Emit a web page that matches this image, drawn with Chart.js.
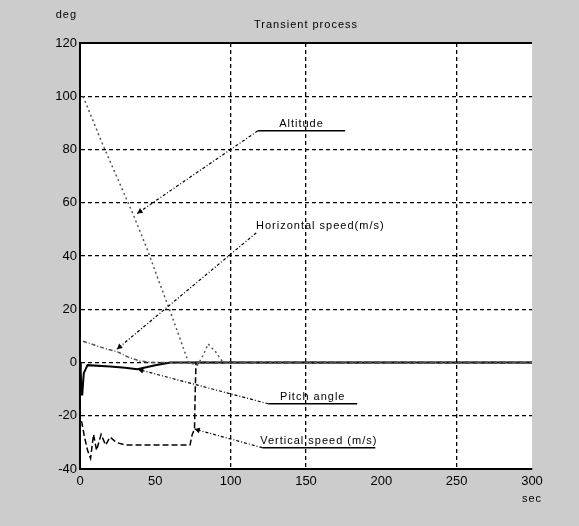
<!DOCTYPE html>
<html>
<head>
<meta charset="utf-8">
<script src="https://cdn.jsdelivr.net/npm/chart.js@4.4.0/dist/chart.umd.min.js"></script>
<style>
  html, body { margin: 0; padding: 0; background: #cccccc; }
  #wrap { width: 579px; height: 526px; }
</style>
</head>
<body>
<div id="wrap"><canvas id="chart" width="579" height="526"></canvas></div>
<script>
// values (time in sec, angle in deg)
const altT = [2, 15, 25, 35, 45, 52, 60, 67, 72, 78, 82, 85, 90, 95, 100, 300];
const altV = [100, 82, 69, 56, 42, 31, 19, 8, 0, -1, 3, 7, 4, 0, 0, 0];

const hsT = [2, 10, 18, 25, 32, 40, 50, 300];
const hsV = [8, 6.5, 5, 4, 2, 0.5, 0, 0];

const pitchT = [0, 0.5, 1, 1.5, 2.5, 5, 20, 30, 38, 50, 60, 300];
const pitchV = [0, -4, -12, -12, -4, -1, -1.5, -2, -2.5, -1, 0, 0];

const vsT = [1, 3, 5, 7, 9, 11, 14, 17, 20, 24, 30, 50, 73, 74.5, 76, 76.5, 77, 300];
const vsV = [-22, -28, -33, -36, -27, -33, -27, -31, -28, -30, -31, -31, -31, -27, -25, -10, 0, 0];

const xTicks = [0, 50, 100, 150, 200, 250, 300];
const yTicks = [-40, -20, 0, 20, 40, 60, 80, 100, 120];
const xGridShown = [100, 150, 250];

// annotation labels: underline span, label level, and arrow target (data units)
const noteText = ['Altitude', 'Horizontal speed(m/s)', 'Pitch angle', 'Vertical speed (m/s)'];
const noteX0 = [118, 117, 125, 121];
const noteX1 = [176, 202, 184, 196];
const noteY = [87, 48.7, -15.5, -32];
const noteLine = [true, false, true, true];
const noteTx = [38, 24.5, 38.5, 76];
const noteTy = [56, 5, -2.6, -25];

const FONT = '"Liberation Sans", Arial, sans-serif';

function pts(t, v) {
    return t.map((x, i) => ({ x: x, y: v[i] }));
}

const frame = {
    id: 'frame',
    beforeDraw(chart) {
        const { ctx, chartArea: a } = chart;
        ctx.save();
        ctx.fillStyle = '#ffffff';
        ctx.fillRect(a.left, a.top, a.right - a.left, a.bottom - a.top);
        ctx.restore();
    },
    afterDraw(chart) {
        const { ctx, chartArea: a, scales } = chart;
        ctx.save();
        // top edge of the box
        ctx.strokeStyle = '#000';
        ctx.lineWidth = 2;
        ctx.beginPath();
        ctx.moveTo(a.left, a.top);
        ctx.lineTo(a.right, a.top);
        ctx.stroke();

        // texts round the box
        ctx.fillStyle = '#000';
        ctx.font = '11px ' + FONT;
        ctx.letterSpacing = '1px';
        ctx.textAlign = 'center';
        ctx.textBaseline = 'middle';
        ctx.fillText('Transient process', (a.left + a.right) / 2, 25);
        ctx.textAlign = 'right';
        ctx.fillText('deg', 77, 15);
        ctx.textAlign = 'center';
        ctx.fillText('sec', scales.x.getPixelForValue(300), 499);

        // labels with arrows
        const x = scales.x, y = scales.y;
        noteText.forEach((txt, i) => {
            const x0 = x.getPixelForValue(noteX0[i]);
            const x1 = x.getPixelForValue(noteX1[i]);
            const yy = y.getPixelForValue(noteY[i]);
            const tx = x.getPixelForValue(noteTx[i]);
            const ty = y.getPixelForValue(noteTy[i]);

            ctx.textAlign = 'center';
            ctx.textBaseline = 'alphabetic';
            ctx.fillText(txt, (x0 + x1) / 2, yy - 4);
            if (noteLine[i]) {
                ctx.setLineDash([]);
                ctx.lineWidth = 1.5;
                ctx.beginPath();
                ctx.moveTo(x0, yy);
                ctx.lineTo(x1, yy);
                ctx.stroke();
            }
            ctx.lineWidth = 1.2;
            ctx.setLineDash([3, 2, 1, 2]);
            ctx.beginPath();
            ctx.moveTo(x0, yy);
            ctx.lineTo(tx, ty);
            ctx.stroke();
            ctx.setLineDash([]);

            // arrow head
            const ang = Math.atan2(ty - yy, tx - x0);
            ctx.beginPath();
            ctx.moveTo(tx, ty);
            ctx.lineTo(tx - 6 * Math.cos(ang - 0.5), ty - 6 * Math.sin(ang - 0.5));
            ctx.lineTo(tx - 6 * Math.cos(ang + 0.5), ty - 6 * Math.sin(ang + 0.5));
            ctx.closePath();
            ctx.fill();
        });
        ctx.restore();
    }
};

const ctx = document.getElementById('chart');
new Chart(ctx, {
    type: 'line',
    data: {
        datasets: [
            { label: 'Altitude', data: pts(altT, altV), borderColor: '#555', borderWidth: 1.5, borderDash: [2, 3] },
            { label: 'Horizontal speed', data: pts(hsT, hsV), borderColor: '#555', borderWidth: 1.5, borderDash: [4, 2, 1, 2] },
            { label: 'Pitch angle', data: pts(pitchT, pitchV), borderColor: '#000', borderWidth: 2 },
            { label: 'Vertical speed', data: pts(vsT, vsV), borderColor: '#000', borderWidth: 1.5, borderDash: [6, 3] }
        ]
    },
    options: {
        responsive: false,
        animation: false,
        elements: { point: { radius: 0 }, line: { tension: 0, fill: false } },
        layout: { padding: { left: 0, right: 47, top: 43, bottom: 0 } },
        plugins: { legend: { display: false }, tooltip: { enabled: false } },
        scales: {
            x: {
                type: 'linear', min: 0, max: 300,
                afterBuildTicks: s => { s.ticks = xTicks.map(v => ({ value: v })); },
                afterFit: s => { s.height = 57; },
                grid: {
                    color: c => xGridShown.includes(c.tick && c.tick.value) ? '#000' : 'rgba(0,0,0,0)',
                    lineWidth: 1.3, drawTicks: false
                },
                border: { display: true, color: '#000', width: 2, dash: [4, 3] },
                ticks: { color: '#000', font: { family: FONT, size: 13 }, padding: 5, maxRotation: 0 }
            },
            y: {
                min: -40, max: 120,
                afterBuildTicks: s => { s.ticks = yTicks.map(v => ({ value: v })); },
                afterFit: s => { s.width = 80; },
                grid: {
                    color: c => (c.tick && (c.tick.value === -40 || c.tick.value === 120)) ? 'rgba(0,0,0,0)' : '#000',
                    lineWidth: 1.3, drawTicks: false
                },
                border: { display: true, color: '#000', width: 2, dash: [4, 3] },
                ticks: { color: '#000', font: { family: FONT, size: 13 }, padding: 3 }
            }
        }
    },
    plugins: [frame]
});
</script>
</body>
</html>
